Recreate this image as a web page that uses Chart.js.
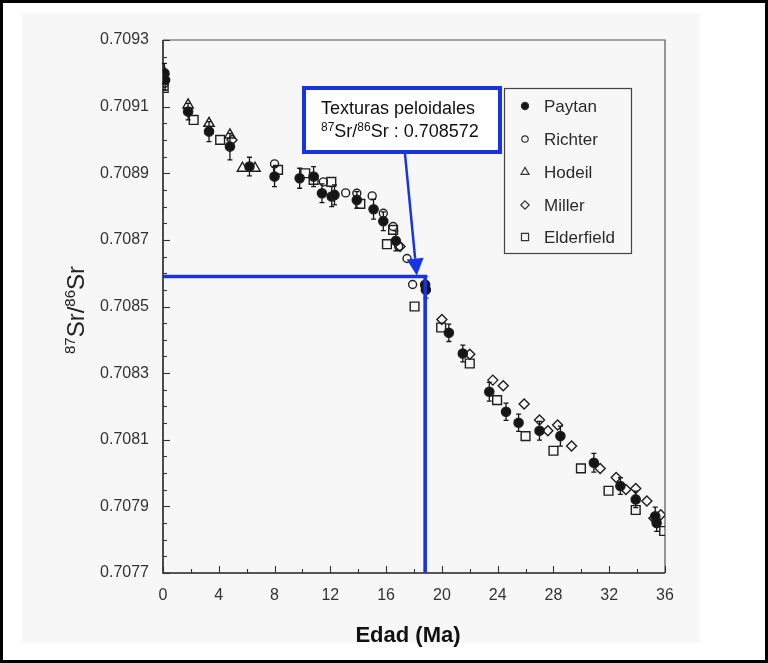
<!DOCTYPE html>
<html>
<head>
<meta charset="utf-8">
<script src="https://cdn.jsdelivr.net/npm/chart.js@4/dist/chart.umd.min.js"></script>
<style>
html,body{margin:0;padding:0;background:#fff;}
#wrap{width:768px;height:663px;position:relative;}
</style>
</head>
<body>
<div id="wrap"><canvas id="c" width="768" height="663"></canvas></div>
<script>
// ---------------- DATA ----------------
const xTickValues = [0, 4, 8, 12, 16, 20, 24, 28, 32, 36];
const yTickLabels = ['0.7077','0.7079','0.7081','0.7083','0.7085','0.7087','0.7089','0.7091','0.7093'];

const seriesNames = ['Paytan', 'Richter', 'Hodeil', 'Miller', 'Elderfield'];

const paytanAge = [0.1, 0.15, 1.8, 3.3, 4.8, 6.2, 8.0, 9.8, 10.8, 11.4, 12.1, 12.3, 13.9, 15.1, 15.8, 16.7, 18.8, 18.85, 20.5, 21.5, 23.4, 24.6, 25.5, 27.0, 28.5, 30.9, 32.8, 33.9, 35.3, 35.4];
const paytanSr  = [0.70920, 0.70918, 0.709085, 0.709025, 0.70898, 0.70892, 0.70889, 0.708885, 0.70889, 0.70884, 0.70883, 0.708835, 0.70882, 0.708792, 0.708756, 0.708697, 0.708565, 0.70855, 0.708421, 0.708359, 0.708244, 0.708184, 0.708151, 0.708127, 0.708111, 0.708031, 0.707961, 0.707921, 0.70787, 0.70785];
const paytanErr = [0.00003, 0.00003, 0.000025, 0.00003, 0.00004, 0.000028, 0.00003, 0.00003, 0.00003, 0.000028, 0.00003, 0.00003, 0.000025, 0.00003, 0.000028, 0.00003, 0.000025, 0.000025, 0.000026, 0.000025, 0.000028, 0.000026, 0.000026, 0.000028, 0.00003, 0.000028, 0.000025, 0.000025, 0.000028, 0.000025];

const richterAge = [0.1, 8.0, 11.5, 13.1, 13.9, 15.0, 15.8, 16.5, 16.9, 17.5, 17.9];
const richterSr  = [0.70917, 0.708928, 0.708874, 0.708841, 0.70884, 0.708832, 0.70878, 0.70874, 0.70868, 0.708644, 0.708566];

const hodellAge = [0.05, 1.8, 3.3, 4.8, 5.7, 6.6];
const hodellSr  = [0.709205, 0.709105, 0.70905, 0.709015, 0.708915, 0.708915];

const millerAge = [4.95, 17.0, 20.0, 22.0, 23.65, 24.4, 25.9, 27.0, 27.6, 28.3, 29.3, 31.35, 32.5, 33.2, 33.9, 34.7, 35.2, 35.7];
const millerSr  = [0.709, 0.70868, 0.708461, 0.708357, 0.708279, 0.708262, 0.708207, 0.708159, 0.708127, 0.708144, 0.708081, 0.708014, 0.707987, 0.707951, 0.707954, 0.707916, 0.707864, 0.707875];

const elderAge = [0.05, 2.2, 4.1, 8.25, 10.2, 10.8, 12.07, 14.15, 16.06, 16.5, 18.04, 19.95, 22.0, 23.96, 26.0, 28.0, 29.97, 31.95, 33.9, 35.94];
const elderSr  = [0.709156, 0.70906, 0.709, 0.70891, 0.7089, 0.70888, 0.708874, 0.708808, 0.708687, 0.70873, 0.7085, 0.708437, 0.708329, 0.708219, 0.708111, 0.708067, 0.708014, 0.707947, 0.707889, 0.707826];

// highlighted sample (peloidal textures)
const markerAge = 18.8;
const markerSr = 0.70859;
const arrowTipAge = 18.2;
const annotationLine1 = 'Texturas peloidales';
const annotationValue = '0.708572';

// ---------------- CHART ----------------
const FONT = "'Liberation Sans', Arial, Helvetica, sans-serif";
const BLUE = '#1634e2';
const INK = '#151515';

function pts(xs, ys) { return xs.map((x, i) => ({x: x, y: ys[i]})); }

const styles = {
  Paytan:     {pointStyle: 'circle',   radius: 4.6, fill: INK},
  Richter:    {pointStyle: 'circle',   radius: 4,   fill: 'rgba(0,0,0,0)'},
  Hodeil:     {pointStyle: 'triangle', radius: 6,   fill: 'rgba(0,0,0,0)'},
  Miller:     {pointStyle: 'rectRot',  radius: 5,   fill: 'rgba(0,0,0,0)'},
  Elderfield: {pointStyle: 'rect',     radius: 6.2, fill: 'rgba(0,0,0,0)'}
};

function scatterSet(name, xs, ys) {
  const s = styles[name];
  return {
    type: 'scatter', label: name, data: pts(xs, ys),
    pointStyle: s.pointStyle, pointRadius: s.radius, pointHoverRadius: s.radius,
    pointBackgroundColor: s.fill, pointBorderColor: '#1e1e1e', pointBorderWidth: 1.4,
    showLine: false
  };
}

function drawMarker(ctx, style, r, x, y, fill) {
  ctx.beginPath();
  if (style === 'circle') {
    ctx.arc(x, y, r, 0, Math.PI * 2);
  } else if (style === 'triangle') {
    ctx.moveTo(x, y - r);
    ctx.lineTo(x + r * 0.866, y + r * 0.5);
    ctx.lineTo(x - r * 0.866, y + r * 0.5);
    ctx.closePath();
  } else if (style === 'rectRot') {
    ctx.moveTo(x, y - r); ctx.lineTo(x + r, y); ctx.lineTo(x, y + r); ctx.lineTo(x - r, y); ctx.closePath();
  } else {
    const h = r * Math.SQRT1_2;
    ctx.rect(x - h, y - h, 2 * h, 2 * h);
  }
  if (fill) { ctx.fillStyle = INK; ctx.fill(); }
  ctx.lineWidth = 1.2; ctx.strokeStyle = '#333'; ctx.stroke();
}

function drawSupText(ctx, parts, x, y, big, small, weight, align) {
  let total = 0;
  const widths = parts.map(p => {
    ctx.font = (weight || '') + ' ' + (p.sup ? small : big) + 'px ' + FONT;
    const w = ctx.measureText(p.t).width; total += w; return w;
  });
  let cx = align === 'center' ? x - total / 2 : x;
  ctx.textAlign = 'left';
  ctx.textBaseline = 'alphabetic';
  parts.forEach((p, i) => {
    ctx.font = (weight || '') + ' ' + (p.sup ? small : big) + 'px ' + FONT;
    ctx.fillText(p.t, cx, p.sup ? y - big * 0.36 : y);
    cx += widths[i];
  });
}

const deco = {
  id: 'deco',
  beforeDraw(chart) {
    const ctx = chart.ctx;
    ctx.save();
    ctx.fillStyle = '#ffffff';
    ctx.fillRect(0, 0, chart.width, chart.height);
    ctx.fillStyle = '#f7f7f7';
    ctx.fillRect(22, 13, 678, 630);
    ctx.restore();
  },
  beforeDatasetsDraw(chart) {
    const ctx = chart.ctx, a = chart.chartArea;
    const xs = chart.scales.x, ys = chart.scales.y;
    ctx.save();
    // frame
    ctx.strokeStyle = '#555'; ctx.lineWidth = 1.2;
    ctx.beginPath();
    ctx.moveTo(a.left, a.top); ctx.lineTo(a.right, a.top); ctx.lineTo(a.right, a.bottom);
    ctx.stroke();
    ctx.strokeStyle = '#222'; ctx.lineWidth = 1.6;
    ctx.beginPath();
    ctx.moveTo(a.left, a.top); ctx.lineTo(a.left, a.bottom); ctx.lineTo(a.right, a.bottom);
    ctx.stroke();
    // y ticks (inward), minor every 0.00005
    ctx.lineWidth = 1.1; ctx.strokeStyle = '#333';
    for (let k = 0; k <= 32; k++) {
      const v = ys.min + k * 0.00005;
      const py = Math.round(ys.getPixelForValue(v)) + 0.5;
      const len = (k % 4 === 0) ? 7 : 4;
      ctx.beginPath(); ctx.moveTo(a.left, py); ctx.lineTo(a.left + len, py); ctx.stroke();
    }
    // x ticks (inward), every 2
    for (let k = 0; k <= 18; k++) {
      const px = Math.round(xs.getPixelForValue(k * 2)) + 0.5;
      const len = (k % 2 === 0) ? 7 : 4;
      ctx.beginPath(); ctx.moveTo(px, a.bottom); ctx.lineTo(px, a.bottom - len); ctx.stroke();
    }
    // error bars for Paytan
    ctx.strokeStyle = INK; ctx.lineWidth = 1.3;
    paytanAge.forEach((age, i) => {
      const px = xs.getPixelForValue(age);
      const y1 = ys.getPixelForValue(paytanSr[i] + paytanErr[i]);
      const y2 = ys.getPixelForValue(paytanSr[i] - paytanErr[i]);
      ctx.beginPath();
      ctx.moveTo(px, y1); ctx.lineTo(px, y2);
      ctx.moveTo(px - 2.5, y1); ctx.lineTo(px + 2.5, y1);
      ctx.moveTo(px - 2.5, y2); ctx.lineTo(px + 2.5, y2);
      ctx.stroke();
    });
    ctx.restore();
  },
  afterDraw(chart) {
    const ctx = chart.ctx, a = chart.chartArea;
    const xs = chart.scales.x, ys = chart.scales.y;
    ctx.save();
    // y title
    ctx.save();
    ctx.translate(84, 310);
    ctx.rotate(-Math.PI / 2);
    ctx.fillStyle = '#222';
    drawSupText(ctx, [{t: '87', sup: true}, {t: 'Sr/'}, {t: '86', sup: true}, {t: 'Sr'}], 0, 0, 24, 15, '', 'center');
    ctx.restore();
    // x title
    ctx.fillStyle = '#111';
    ctx.font = 'bold 22px ' + FONT;
    ctx.textAlign = 'center'; ctx.textBaseline = 'alphabetic';
    ctx.fillText('Edad (Ma)', 408, 642);

    // legend
    const L = {l: 504, t: 88, r: 631, b: 253};
    ctx.strokeStyle = '#444'; ctx.lineWidth = 1.2;
    ctx.strokeRect(L.l + 0.5, L.t + 0.5, L.r - L.l, L.b - L.t);
    const rowY = [106, 139, 172, 205, 237];
    const legR = {Paytan: 3.6, Richter: 3.2, Hodeil: 4.6, Miller: 4.2, Elderfield: 5};
    seriesNames.forEach((n, i) => {
      drawMarker(ctx, styles[n].pointStyle, legR[n], 525, rowY[i], n === 'Paytan');
      ctx.fillStyle = '#2a2a2a';
      ctx.font = '17px ' + FONT;
      ctx.textAlign = 'left'; ctx.textBaseline = 'middle';
      ctx.fillText(n, 544, rowY[i] + 1);
    });

    // annotation box
    const B = {l: 304, t: 88, r: 500, b: 152};
    ctx.fillStyle = '#ffffff';
    ctx.fillRect(B.l, B.t, B.r - B.l, B.b - B.t);
    ctx.strokeStyle = BLUE; ctx.lineWidth = 4;
    ctx.strokeRect(B.l, B.t, B.r - B.l, B.b - B.t);
    ctx.fillStyle = '#111';
    ctx.font = '18px ' + FONT;
    ctx.textAlign = 'left'; ctx.textBaseline = 'alphabetic';
    ctx.fillText(annotationLine1, 321, 114);
    drawSupText(ctx, [{t: '87', sup: true}, {t: 'Sr/'}, {t: '86', sup: true}, {t: 'Sr : ' + annotationValue}], 321, 137, 18, 12, '', 'left');

    // arrow
    const tipX = xs.getPixelForValue(arrowTipAge);
    const tipY = ys.getPixelForValue(markerSr) - 1;
    const sx = 405, sy = B.b + 2;
    const ang = Math.atan2(tipY - sy, tipX - sx);
    const hl = 17, hw = 8.5;
    const bx = tipX - hl * Math.cos(ang), by = tipY - hl * Math.sin(ang);
    ctx.strokeStyle = BLUE; ctx.lineWidth = 2.5;
    ctx.beginPath(); ctx.moveTo(sx, sy); ctx.lineTo(bx, by); ctx.stroke();
    ctx.fillStyle = BLUE;
    ctx.beginPath();
    ctx.moveTo(tipX, tipY);
    ctx.lineTo(bx + hw * Math.sin(ang), by - hw * Math.cos(ang));
    ctx.lineTo(bx - hw * Math.sin(ang), by + hw * Math.cos(ang));
    ctx.closePath(); ctx.fill();

    // outer frame
    ctx.strokeStyle = '#000'; ctx.lineWidth = 3;
    ctx.strokeRect(1.5, 1.5, chart.width - 3, chart.height - 3);
    ctx.restore();
  }
};

const highlightLine = {
  type: 'line', label: 'highlight',
  data: [{x: 0, y: markerSr}, {x: markerAge, y: markerSr}, {x: markerAge, y: 0.7077}],
  borderColor: BLUE, borderWidth: 3.6, pointRadius: 0, fill: false, tension: 0,
  borderJoinStyle: 'miter', clip: false
};

new Chart(document.getElementById('c'), {
  type: 'scatter',
  data: {
    datasets: [
      highlightLine,
      scatterSet('Paytan', paytanAge, paytanSr),
      scatterSet('Richter', richterAge, richterSr),
      scatterSet('Hodeil', hodellAge, hodellSr),
      scatterSet('Miller', millerAge, millerSr),
      scatterSet('Elderfield', elderAge, elderSr)
    ]
  },
  options: {
    responsive: false,
    animation: false,
    devicePixelRatio: 1,
    layout: {padding: {left: 0, right: 103, top: 40, bottom: 0}},
    plugins: {legend: {display: false}, tooltip: {enabled: false}},
    scales: {
      x: {
        type: 'linear', min: 0, max: 36,
        afterBuildTicks(scale) { scale.ticks = xTickValues.map(v => ({value: v})); },
        ticks: {font: {family: FONT, size: 16}, color: '#333', padding: 13, maxRotation: 0, callback: v => String(v)},
        grid: {display: false, drawTicks: false},
        border: {display: false},
        afterFit(scale) { scale.height = 90; }
      },
      y: {
        type: 'linear', min: 0.7077, max: 0.7093,
        afterBuildTicks(scale) { scale.ticks = yTickLabels.map(t => ({value: parseFloat(t)})); },
        ticks: {font: {family: FONT, size: 16}, color: '#333', padding: 14,
          callback: (v) => { const s = v.toFixed(4); return yTickLabels.includes(s) ? s : ''; }},
        grid: {display: false, drawTicks: false},
        border: {display: false},
        afterFit(scale) { scale.width = 163; }
      }
    }
  },
  plugins: [deco]
});
</script>
</body>
</html>
